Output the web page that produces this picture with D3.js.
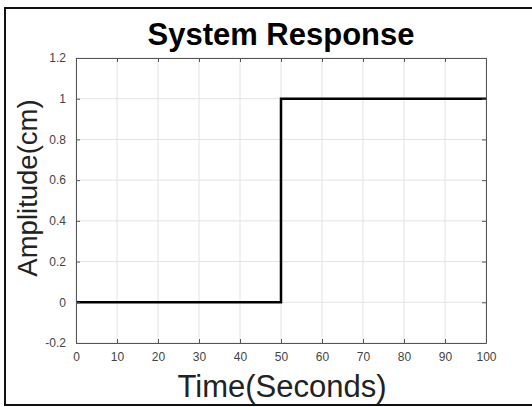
<!DOCTYPE html>
<html><head><meta charset="utf-8">
<script src="https://cdn.jsdelivr.net/npm/d3@7"></script>
<style>body{margin:0;background:#fff;}svg{display:block;font-family:"Liberation Sans",Arial,sans-serif;}</style>
</head><body>
<script>
const time = [0, 50, 50, 100];
const amplitude = [0, 0, 1, 1];
const xTicks = [0,10,20,30,40,50,60,70,80,90,100];
const yTicks = [-0.2,0,0.2,0.4,0.6,0.8,1,1.2];
const yTickLabels = ["-0.2","0","0.2","0.4","0.6","0.8","1","1.2"];
const titleText = "System Response";
const xLabel = "Time(Seconds)";
const yLabel = "Amplitude(cm)";

const W = 532, H = 407;
const m = {left:76, right:46, top:58, bottom:64};
const svg = d3.select("body").append("svg").attr("width",W).attr("height",H);
svg.append("rect").attr("width",W).attr("height",H).attr("fill","#fff");
svg.append("rect").attr("x",5).attr("y",8).attr("width",540).attr("height",397)
  .attr("fill","none").attr("stroke","#111").attr("stroke-width",2);

const x = d3.scaleLinear().domain([0,100]).range([m.left, W-m.right]);
const y = d3.scaleLinear().domain([-0.2,1.2]).range([H-m.bottom, m.top]);

// grid
const g = svg.append("g");
g.selectAll(".gx").data(xTicks).join("line")
  .attr("x1",d=>x(d)).attr("x2",d=>x(d)).attr("y1",y(-0.2)).attr("y2",y(1.2))
  .attr("stroke","#e3e3e3").attr("stroke-width",1);
g.selectAll(".gy").data(yTicks).join("line")
  .attr("y1",d=>y(d)).attr("y2",d=>y(d)).attr("x1",x(0)).attr("x2",x(100))
  .attr("stroke","#e3e3e3").attr("stroke-width",1);

// data line
svg.append("path").datum(time.map((t,i)=>[t,amplitude[i]]))
  .attr("d", d3.line().x(d=>x(d[0])).y(d=>y(d[1])))
  .attr("fill","none").attr("stroke","#000").attr("stroke-width",2.5);

// axes
const axCol = "#555";
function styleAxis(sel){
  sel.attr("font-size",null).attr("font-family",null);
  sel.select(".domain").attr("stroke",axCol);
  sel.selectAll(".tick line").attr("stroke",axCol);
  sel.selectAll(".tick text").attr("fill","#444")
     .style("font-size","12px").style("font-family","'Liberation Sans',Arial,sans-serif");
}
const xb = svg.append("g").attr("transform",`translate(0,${y(-0.2)})`)
  .call(d3.axisBottom(x).tickValues(xTicks).tickSizeInner(-4).tickSizeOuter(0).tickPadding(9));
styleAxis(xb);
const xt = svg.append("g").attr("transform",`translate(0,${y(1.2)})`)
  .call(d3.axisTop(x).tickValues(xTicks).tickSizeInner(-4).tickSizeOuter(0).tickFormat(""));
styleAxis(xt);
const yl = svg.append("g").attr("transform",`translate(${x(0)},0)`)
  .call(d3.axisLeft(y).tickValues(yTicks).tickSizeInner(-4).tickSizeOuter(0).tickPadding(10)
    .tickFormat((d,i)=>yTickLabels[i]));
styleAxis(yl);
const yr = svg.append("g").attr("transform",`translate(${x(100)},0)`)
  .call(d3.axisRight(y).tickValues(yTicks).tickSizeInner(-4).tickSizeOuter(0).tickFormat(""));
styleAxis(yr);

svg.append("text").attr("x",(x(0)+x(100))/2).attr("y",45).attr("text-anchor","middle")
  .attr("font-size","31px").attr("font-weight","bold").attr("fill","#000").text(titleText);
svg.append("text").attr("x",(x(0)+x(100))/2+1).attr("y",397).attr("text-anchor","middle")
  .attr("font-size","31px").attr("fill","#222").text(xLabel);
svg.append("text").attr("transform","translate(37,188) rotate(-90)").attr("text-anchor","middle")
  .attr("font-size","27.5px").attr("fill","#222").text(yLabel);
</script>
</body></html>
